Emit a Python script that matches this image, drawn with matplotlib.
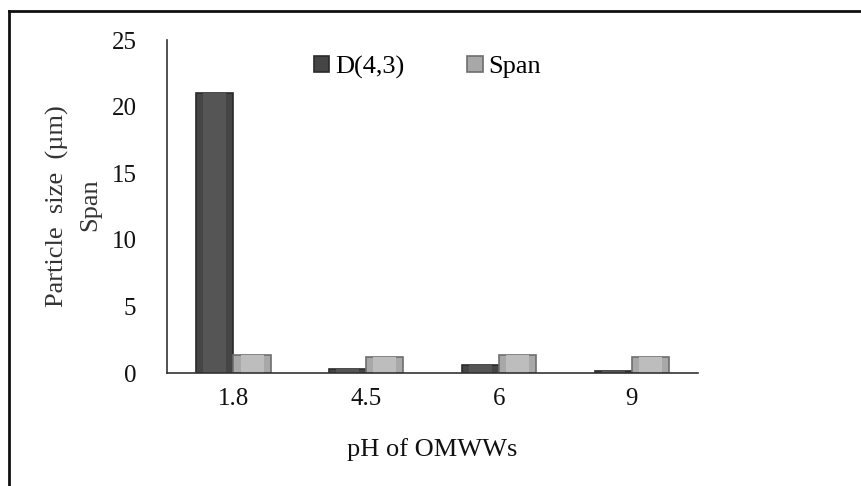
import numpy as np
import matplotlib.pyplot as plt
from matplotlib.lines import Line2D

plt.rcParams['font.family'] = ['Liberation Serif', 'DejaVu Serif']

ph_labels = ['1.8', '4.5', '6', '9']
d43 = [21.0, 0.28, 0.58, 0.13]
span = [1.35, 1.22, 1.35, 1.22]

fig = plt.figure(figsize=(8.61, 4.86), dpi=100)
ax = fig.add_axes([0.194, 0.2325, 0.617, 0.685])

x = np.arange(len(ph_labels))
w = 0.28
ax.bar(x - w/2, d43, w, color='#454545', edgecolor='#2a2a2a', linewidth=1.2, label='D(4,3)')
ax.bar(x + w/2, span, w, color='#a8a8a8', edgecolor='#6e6e6e', linewidth=1.2, label='Span')
# light bevel highlight inside bars
ax.bar(x - w/2, d43, w*0.62, color='#555555', linewidth=0)
ax.bar(x + w/2, span, w*0.62, color='#bdbdbd', linewidth=0)

ax.set_xlim(-0.5, 3.5)
ax.set_ylim(0, 25)
ax.set_yticks([0, 5, 10, 15, 20, 25])
ax.set_xticks(x)
ax.set_xticklabels(ph_labels)
ax.tick_params(axis='both', length=0, labelsize=18, colors='#111111')
ax.tick_params(axis='y', pad=22)
ax.tick_params(axis='x', pad=11)
for s in ['top', 'right']:
    ax.spines[s].set_visible(False)
ax.spines['left'].set_color('#333333')
ax.spines['bottom'].set_color('#333333')
ax.spines['left'].set_linewidth(1.2)
ax.spines['bottom'].set_linewidth(1.2)

ax.set_xlabel('pH of OMWWs', fontsize=19, labelpad=20, color='#111111')

leg = ax.legend(handles=ax.containers[:2], labels=['D(4,3)', 'Span'], ncol=2, frameon=False,
                loc='center', bbox_to_anchor=(0.49, 0.919), fontsize=19,
                handlelength=0.6, handleheight=0.6, handletextpad=0.2, columnspacing=2.4)

fig.text(57/861, 1 - 206/486, 'Particle  size  (µm)', rotation=90, ha='center', va='center',
         fontsize=19, color='#333333')
fig.text(90/861, 1 - 205/486, 'Span', rotation=90, ha='center', va='center',
         fontsize=19, color='#333333')

# outer frame (top and left edges visible)
fig.add_artist(Line2D([9/861, 1], [1 - 11/486, 1 - 11/486], transform=fig.transFigure,
                      color='#111111', linewidth=2))
fig.add_artist(Line2D([9/861, 9/861], [0, 1 - 11/486], transform=fig.transFigure,
                      color='#111111', linewidth=2))

fig.savefig('out.png', dpi=100)
